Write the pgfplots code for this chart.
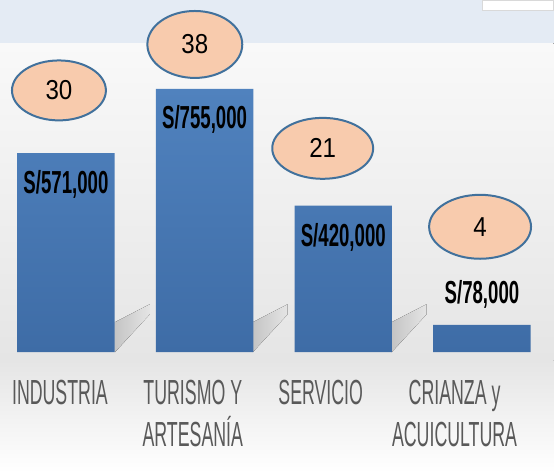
\documentclass[border=0pt]{standalone}
\usepackage{pgfplots}
\pgfplotsset{compat=1.18}
\usetikzlibrary{shapes.geometric}
\usepackage{fontspec}
\setmainfont{Liberation Sans}
\newfontfamily\narrowfont[FakeStretch=0.51]{Liberation Sans}
\newfontfamily\valfont[FakeStretch=0.585]{Liberation Sans}
\newfontfamily\numfont[FakeStretch=0.88]{Liberation Sans}
\definecolor{topband}{RGB}{228,235,244}
\definecolor{bgtop}{RGB}{249,249,249}
\definecolor{bgmid}{RGB}{229,229,229}
\definecolor{bartop}{RGB}{80,130,190}
\definecolor{barbot}{RGB}{62,108,166}
\definecolor{peach}{RGB}{248,203,173}
\definecolor{ellline}{RGB}{65,113,156}
\definecolor{labgray}{RGB}{89,89,89}
\definecolor{shad}{RGB}{196,196,196}
\begin{document}
\begin{tikzpicture}
\begin{axis}[
  scale only axis, width=554bp, height=473bp,
  xmin=-0.4755, xmax=3.516, ymin=-346700, ymax=1008600,
  axis lines=none, ticks=none, clip=false,
]
% background
\fill[top color=bgmid, bottom color=white, draw=none] (rel axis cs:0,0) rectangle (rel axis cs:1,{1-360/473});
\fill[top color=bgtop, bottom color=bgmid, draw=none] (rel axis cs:0,{1-360/473}) rectangle (rel axis cs:1,{1-43/473});
\fill[topband] (rel axis cs:0,{1-43/473}) rectangle (rel axis cs:1,1);
\draw[fill=white, draw=black!15, line width=1bp] (rel axis cs:{483/554},{1-10/473}) -- (rel axis cs:{483/554},1) -- (rel axis cs:1,1) -- (rel axis cs:1,{1-10/473}) -- cycle;
% soft shadows behind bars
\fill[left color=shad, right color=bgmid, draw=none]
  (rel axis cs:{115/554},{1-352/473}) -- (rel axis cs:{115/554},{1-322/473})
  -- (rel axis cs:{150/554},{1-304/473}) -- (rel axis cs:{150/554},{1-314/473}) -- cycle;
\fill[left color=shad, right color=bgmid, draw=none]
  (rel axis cs:{253/554},{1-352/473}) -- (rel axis cs:{253/554},{1-322/473})
  -- (rel axis cs:{288/554},{1-304/473}) -- (rel axis cs:{288/554},{1-314/473}) -- cycle;
\fill[left color=shad, right color=bgmid, draw=none]
  (rel axis cs:{392/554},{1-352/473}) -- (rel axis cs:{392/554},{1-322/473})
  -- (rel axis cs:{427/554},{1-304/473}) -- (rel axis cs:{427/554},{1-314/473}) -- cycle;
% bars
\addplot[ybar, bar width=97.5bp, draw=none, top color=bartop, bottom color=barbot]
  coordinates {(0,571000) (1,755000) (2,420000) (3,78000)};
% value labels
\tikzset{val/.style={font=\valfont\bfseries\fontsize{32}{34}\selectfont, text=black, inner sep=0pt}}
\node[val] at ([yshift=-31bp]axis cs:0,571000) {S/571,000};
\node[val] at ([yshift=-31bp]axis cs:1,755000) {S/755,000};
\node[val] at ([yshift=-32bp]axis cs:2,420000) {S/420,000};
\node[val] at ([yshift=31bp]axis cs:3,78000) {S/78,000};
% ellipses
\tikzset{ell/.style={ellipse, draw=ellline, line width=2bp, fill=peach, inner sep=0pt, font=\numfont\fontsize{27.5}{29}\selectfont}}
\node[ell, minimum width=94bp, minimum height=60bp] at (rel axis cs:{59/554},{1-90/473}) {30};
\node[ell, minimum width=95bp, minimum height=67bp] at (rel axis cs:{195/554},{1-44/473}) {38};
\node[ell, minimum width=101bp, minimum height=61bp] at (rel axis cs:{323/554},{1-148/473}) {21};
\node[ell, minimum width=102bp, minimum height=64bp] at (rel axis cs:{480.5/554},{1-226.5/473}) {4};
% category labels
\tikzset{cat/.style={align=center, text=labgray, font=\narrowfont\fontsize{35}{42}\selectfont, anchor=north, inner sep=0pt}}
\node[cat] at (rel axis cs:{60/554},{1-380/473}) {INDUSTRIA};
\node[cat] at (rel axis cs:{193/554},{1-380/473}) {TURISMO Y\\ARTESANÍA};
\node[cat] at (rel axis cs:{321/554},{1-380/473}) {SERVICIO};
\node[cat] at (rel axis cs:{455/554},{1-380/473}) {CRIANZA y\\ACUICULTURA};
\end{axis}
\end{tikzpicture}
\end{document}
